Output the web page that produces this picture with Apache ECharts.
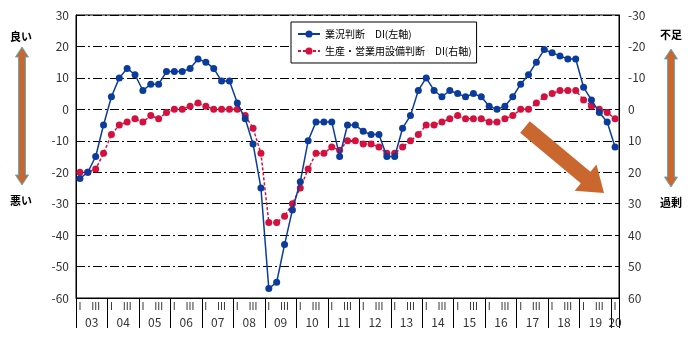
<!DOCTYPE html>
<html><head><meta charset="utf-8">
<script src="https://cdn.jsdelivr.net/npm/echarts@6/dist/echarts.min.js"></script>
<style>html,body{margin:0;padding:0;background:#fff}#c{width:696px;height:344px}</style>
</head><body><div id="c"></div>
<script>
// ---- data ----
var years = ['03','04','05','06','07','08','09','10','11','12','13','14','15','16','17','18','19','20'];
var quarters = [];
years.forEach(function(y, yi){ var n = (y === '20') ? 1 : 4; for (var q = 1; q <= n; q++) quarters.push(y + 'Q' + q); });
var businessDI = [-22,-20,-15,-5,4,10,13,11,6,8,8,12,12,12,13,16,15,13,9,9,2,-3,-11,-25,-57,-55,-43,-32,-23,-10,-4,-4,-4,-15,-5,-5,-7,-8,-8,-15,-15,-6,-2,6,10,6,4,6,5,4,5,4,1,0,1,4,8,11,15,19,18,17,16,16,7,3,-1,-4,-12];
var equipmentDI = [20,20,19,14,8,5,4,3,4,2,3,1,0,0,-1,-2,-1,0,0,0,0,2,6,14,36,36,34,30,25,19,14,14,12,13,10,10,11,11,12,14,14,12,10,8,5,5,4,3,2,3,3,3,4,4,3,2,0,0,-2,-4,-5,-6,-6,-6,-3,-1,0,1,3];
var leftTicks = {min:-60, max:30, step:10};
var rightTicks = {min:-30, max:60, step:10};
var seriesNames = ['業況判断　DI(左軸)', '生産・営業用設備判断　DI(右軸)'];

// half-quarter axis for year dividers & labels
var halfCats = [];
for (var k = 0; k < quarters.length * 2 + 1; k++) halfCats.push('h' + k);
function yearLabelAt(k){
  if (k % 8 === 4 && k / 8 < 17) return years[(k - 4) / 8];
  if (k === quarters.length * 2 - 1) return years[17];
  return '';
}

var FONT = '"Noto Sans CJK JP", "Noto Sans", sans-serif';
var chart = echarts.init(document.getElementById('c'), null, {renderer:'canvas'});

function arrowPoly(x1, y1, x2, y2, shaftHalf, headLen, headHalf){
  var dx = x2 - x1, dy = y2 - y1, L = Math.sqrt(dx*dx + dy*dy);
  var ux = dx / L, uy = dy / L, px = -uy, py = ux;
  var bx = x2 - ux * headLen, by = y2 - uy * headLen;
  return [
    [x1 + px*shaftHalf, y1 + py*shaftHalf],
    [bx + px*shaftHalf, by + py*shaftHalf],
    [bx + px*headHalf, by + py*headHalf],
    [x2, y2],
    [bx - px*headHalf, by - py*headHalf],
    [bx - px*shaftHalf, by - py*shaftHalf],
    [x1 - px*shaftHalf, y1 - py*shaftHalf]
  ];
}
function doubleArrow(cx, top, bottom){
  var sh = 3.5, hh = 6.5, hl = 10;
  return [[cx, top],[cx+hh, top+hl],[cx+sh, top+hl],[cx+sh, bottom-hl],[cx+hh, bottom-hl],[cx, bottom],[cx-hh, bottom-hl],[cx-sh, bottom-hl],[cx-sh, top+hl],[cx-hh, top+hl]];
}

var option = {
  backgroundColor:'#fff',
  textStyle:{fontFamily:FONT},
  animation:false,
  grid:{left:76, right:77, top:15, bottom:46, show:true, borderColor:'#000', borderWidth:1, backgroundColor:'transparent'},
  legend:{
    orient:'vertical', left:291, top:22,
    backgroundColor:'#fff', borderColor:'#000', borderWidth:1,
    padding:[7,5,7,6], itemGap:7, itemWidth:22, itemHeight:9,
    textStyle:{fontSize:10, color:'#000', fontFamily:FONT},
    data:seriesNames
  },
  xAxis:[
    {type:'category', data:quarters, boundaryGap:true, position:'bottom',
     axisLine:{show:true, onZero:false, lineStyle:{color:'#000', width:1}},
     axisTick:{show:false},
     axisLabel:{interval:0, margin:3, fontSize:10, color:'#333', fontFamily:FONT,
       formatter:function(v, i){ var q = i % 4; return q === 0 ? 'Ⅰ' : (q === 2 ? 'Ⅲ' : ''); }},
     splitLine:{show:false}},
    {type:'category', data:halfCats, boundaryGap:false, position:'bottom',
     axisLine:{show:false, onZero:false},
     axisTick:{show:true, length:30, lineStyle:{color:'#000', width:1},
       interval:function(i){ return i % 8 === 0 || i === halfCats.length - 1; }},
     axisLabel:{interval:0, margin:18, fontSize:12, color:'#333', fontFamily:FONT,
       formatter:function(v, i){ return yearLabelAt(i); }},
     splitLine:{show:false}}
  ],
  yAxis:[
    {type:'value', min:leftTicks.min, max:leftTicks.max, interval:leftTicks.step, position:'left',
     axisLine:{show:true, lineStyle:{color:'#000'}},
     axisTick:{show:true, inside:true, length:4, lineStyle:{color:'#000'}},
     axisLabel:{margin:7, fontSize:12, color:'#333', fontFamily:FONT},
     splitLine:{show:true, lineStyle:{color:'#000', width:1, type:[9,3,2,3]}}},
    {type:'value', min:rightTicks.min, max:rightTicks.max, interval:rightTicks.step, position:'right', inverse:true,
     axisLine:{show:true, lineStyle:{color:'#000'}},
     axisTick:{show:true, inside:true, length:4, lineStyle:{color:'#000'}},
     axisLabel:{margin:9, fontSize:12, color:'#333', fontFamily:FONT},
     splitLine:{show:false}}
  ],
  series:[
    {name:seriesNames[0], type:'line', xAxisIndex:0, yAxisIndex:0, data:businessDI,
     symbol:'circle', symbolSize:7, showAllSymbol:true,
     itemStyle:{color:'#0B3C9C'}, lineStyle:{color:'#0B3C9C', width:1.5}, z:3},
    {name:seriesNames[1], type:'line', xAxisIndex:0, yAxisIndex:1, data:equipmentDI,
     symbol:'circle', symbolSize:7, showAllSymbol:true,
     itemStyle:{color:'#D4113E'}, lineStyle:{color:'#D4113E', width:1.5, type:[3,2]}, z:2}
  ],
  graphic:[
    {type:'polygon', shape:{points:doubleArrow(22, 47, 185)}, style:{fill:'#C9672F', stroke:'#5AAFC0', lineWidth:1}},
    {type:'polygon', shape:{points:doubleArrow(671, 49, 187)}, style:{fill:'#C9672F', stroke:'#5AAFC0', lineWidth:1}},
    {type:'polygon', shape:{points:arrowPoly(525, 127, 604, 193, 7.5, 24, 17)}, style:{fill:'#C9672F'}, z:1},
    {type:'text', left:10, top:31, style:{text:'良い', font:'bold 11px ' + FONT, fill:'#000'}},
    {type:'text', left:10, top:195, style:{text:'悪い', font:'bold 11px ' + FONT, fill:'#000'}},
    {type:'text', left:660, top:29, style:{text:'不足', font:'bold 11px ' + FONT, fill:'#000'}},
    {type:'text', left:660, top:197, style:{text:'過剰', font:'bold 11px ' + FONT, fill:'#000'}}
  ]
};
chart.setOption(option);
</script>
</body></html>
